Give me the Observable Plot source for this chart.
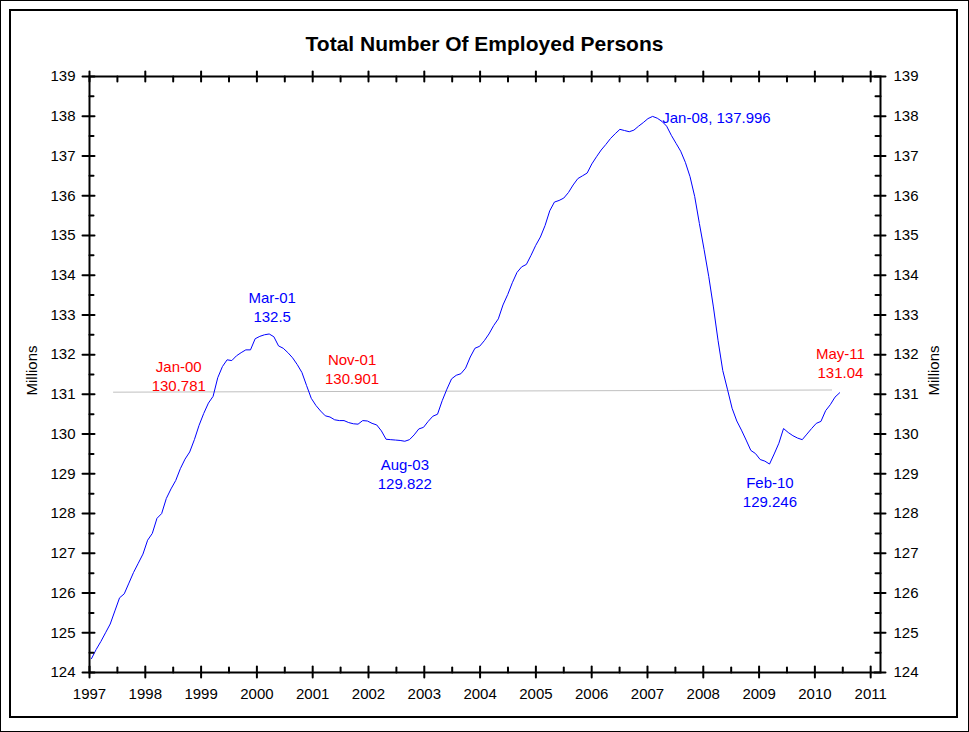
<!DOCTYPE html>
<html>
<head>
<meta charset="utf-8">
<script src="https://cdn.jsdelivr.net/npm/d3@7"></script>
<script src="https://cdn.jsdelivr.net/npm/@observablehq/plot@0.6"></script>
<style>
  html, body { margin: 0; padding: 0; background: #fff; }
  #wrap { position: relative; width: 969px; height: 732px; overflow: hidden; font-family: "Liberation Sans", Arial, sans-serif; }
  #outer { position: absolute; left: 0; top: 0; width: 967px; height: 730px; border: 1px solid #000; }
  #inner { position: absolute; left: 9px; top: 9px; width: 945px; height: 705px; border: 2px solid #000; }
  #chart { position: absolute; left: 0; top: 0; }
  #title { position: absolute; left: 0; top: 33px; width: 969px; text-align: center; font-weight: bold; font-size: 21px; line-height: 22px; color: #000; }
</style>
</head>
<body>
<div id="wrap">
  <div id="outer"></div>
  <div id="inner"></div>
  <div id="chart"></div>
  <div id="title">Total Number Of Employed Persons</div>
</div>
<script>
// Monthly employment (millions), Jan-98 .. May-11
const values = [
  124.35, 124.58, 124.78, 125.00, 125.22, 125.55, 125.88, 125.98, 126.25, 126.52, 126.75, 126.98,
  127.33, 127.50, 127.88, 128.00, 128.38, 128.62, 128.83, 129.13, 129.37, 129.55, 129.86, 130.22,
  130.52, 130.78, 130.95, 131.42, 131.70, 131.87, 131.85, 131.97, 132.05, 132.12, 132.12, 132.40,
  132.46, 132.50, 132.52, 132.45, 132.22, 132.16, 132.05, 131.92, 131.75, 131.55, 131.22, 130.90,
  130.72, 130.58, 130.46, 130.43, 130.36, 130.34, 130.34, 130.29, 130.26, 130.25, 130.34, 130.33,
  130.27, 130.23, 130.08, 129.87, 129.86, 129.85, 129.84, 129.82, 129.86, 129.98, 130.13, 130.17,
  130.32, 130.45, 130.50, 130.84, 131.13, 131.39, 131.48, 131.52, 131.66, 131.94, 132.16, 132.21,
  132.35, 132.52, 132.73, 132.90, 133.25, 133.51, 133.81, 134.07, 134.21, 134.27, 134.50, 134.75,
  134.96, 135.25, 135.62, 135.84, 135.88, 135.94, 136.08, 136.27, 136.43, 136.50, 136.57, 136.80,
  136.98, 137.15, 137.29, 137.44, 137.56, 137.67, 137.64, 137.61, 137.65, 137.75, 137.84, 137.94,
  137.996, 137.95, 137.87, 137.75, 137.52, 137.32, 137.12, 136.84, 136.48, 135.98, 135.30, 134.65,
  133.97, 133.20, 132.35, 131.60, 131.13, 130.65, 130.33, 130.10, 129.85, 129.59, 129.51, 129.36,
  129.32, 129.246, 129.50, 129.77, 130.14, 130.04, 129.96, 129.90, 129.86, 130.00, 130.14, 130.27,
  130.32, 130.59, 130.74, 130.93, 131.04
];
// the chart's own date axis: first month sits just right of the "1997" tick
const axisStart = 1997.036;
const monthStep = 0.0838;

// grey level line
const refX = [1997.43, 2010.30];
const refY = [131.055, 131.11];

// annotations
const annoText = ["Mar-01\n132.5", "Jan-00\n130.781", "Nov-01\n130.901", "Aug-03\n129.822", "Jan-08, 137.996", "Feb-10\n129.246", "May-11\n131.04"];
const annoX = [2000.274, 1998.600, 2001.706, 2002.651, 2007.265, 2009.194, 2010.458];
const annoY = [133.214, 131.469, 131.645, 129.013, 137.982, 128.560, 131.796];
const annoKind = ["extreme", "level", "level", "extreme", "extreme", "extreme", "level"];

// axis ticks
const yearTicks = d3.range(1997, 2012);
const halfYearTicks = d3.range(1997.5, 2011, 1);
const yTicks = d3.range(124, 140);
const yHalfTicks = d3.range(124.5, 139, 1);

const series = values.map((v, i) => ({x: axisStart + i * monthStep, y: v}));
const ref = refX.map((x, i) => ({x, y: refY[i]}));
const annos = annoText.map((t, i) => ({text: t, x: annoX[i], y: annoY[i], kind: annoKind[i]}));
const annosCentered = annos.filter(d => !d.text.includes(","));
const annosLeft = annos.filter(d => d.text.includes(","));

const tickShape = {draw(ctx, l) { ctx.moveTo(0, 0); ctx.lineTo(0, -l); }};
const V = (data, o) => Plot.vector(data, {shape: tickShape, anchor: "start", stroke: "#000", strokeWidth: 2, ...o});
const annoOpts = {
  x: "x", y: "y", text: "text",
  fill: d => d.kind === "level" ? "#ff0000" : "#0000ff",
  lineAnchor: "middle", lineHeight: 1.27, fontSize: 15
};

const chart = Plot.plot({
  width: 969,
  height: 732,
  marginLeft: 89,
  marginRight: 89,
  marginTop: 76,
  marginBottom: 60,
  style: {fontFamily: "'Liberation Sans', Arial, sans-serif", fontSize: "15px", background: "transparent", color: "#000"},
  x: {domain: [1997, 2011.176]},
  y: {domain: [124, 139]},
  marks: [
    Plot.line(ref, {x: "x", y: "y", stroke: "#c0c0c0", strokeWidth: 1}),
    Plot.line(series, {x: "x", y: "y", stroke: "#0000ff", strokeWidth: 1}),
    Plot.frame({stroke: "#000", strokeWidth: 2}),
    V(yTicks, {y: d => d, frameAnchor: "left", rotate: -90, length: 12, dx: 5}),
    V(yHalfTicks, {y: d => d, frameAnchor: "left", rotate: 90, length: 4}),
    V(yTicks, {y: d => d, frameAnchor: "right", rotate: 90, length: 11, dx: -6}),
    V(yHalfTicks, {y: d => d, frameAnchor: "right", rotate: -90, length: 5}),
    V(yearTicks, {x: d => d, frameAnchor: "bottom", rotate: 180, length: 11, dy: -6}),
    V(halfYearTicks, {x: d => d, frameAnchor: "bottom", rotate: 0, length: 5}),
    V(yearTicks, {x: d => d, frameAnchor: "top", rotate: 180, length: 10, dy: -5}),
    V(halfYearTicks, {x: d => d, frameAnchor: "top", rotate: 180, length: 5}),
    Plot.axisY(yTicks, {anchor: "left", tickSize: 0, tickPadding: 14, label: null, fontSize: 15}),
    Plot.axisY(yTicks, {anchor: "right", tickSize: 0, tickPadding: 13, label: null, fontSize: 15}),
    Plot.axisX(yearTicks, {anchor: "bottom", tickSize: 0, tickPadding: 16, label: null, fontSize: 15, tickFormat: d => String(d)}),
    Plot.text(["Millions"], {frameAnchor: "left", textAnchor: "middle", rotate: -90, dx: -57, dy: -4, fontSize: 15}),
    Plot.text(["Millions"], {frameAnchor: "right", textAnchor: "middle", rotate: -90, dx: 54, dy: -4, fontSize: 15}),
    Plot.text(annosCentered, {...annoOpts, textAnchor: "middle"}),
    Plot.text(annosLeft, {...annoOpts, textAnchor: "start"})
  ]
});
document.getElementById("chart").appendChild(chart);
</script>
</body>
</html>
